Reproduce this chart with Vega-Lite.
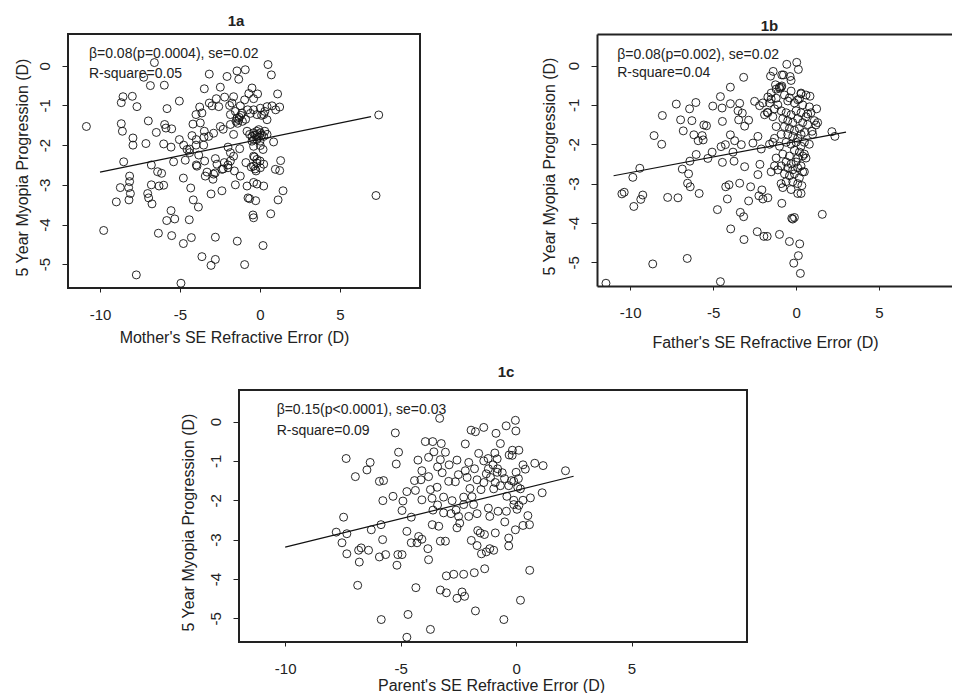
{
  "$schema": "https://vega.github.io/schema/vega-lite/v6.json",
  "padding": {"left": 12, "top": 13, "right": 0, "bottom": 0},
  "background": "white",
  "config": {
    "font": "Liberation Sans",
    "view": {"stroke": "#222", "strokeWidth": 2},
    "axis": {"grid": false, "domain": false, "tickColor": "#222", "tickWidth": 1, "labelColor": "#222", "titleColor": "#222", "labelFontSize": 15, "titleFontSize": 16, "titleFontWeight": "normal", "labelFont": "Liberation Sans", "titleFont": "Liberation Sans"},
    "axisX": {"tickSize": 4, "labelPadding": 15, "titleBaseline": "alphabetic", "titleAlign": "center"},
    "axisY": {"tickSize": 6, "labelPadding": 10, "labelAngle": -90, "labelAlign": "center", "labelBaseline": "bottom", "titleBaseline": "alphabetic", "titleAlign": "center", "titleAngle": -90},
    "title": {"fontSize": 15, "fontWeight": "bold", "baseline": "alphabetic", "color": "#222", "font": "Liberation Sans"}
  },
  "datasets": {
    "a": [
      {"x":-6.60,"y":0.08},{"x":0.50,"y":0.03},{"x":-3.17,"y":-0.21},{"x":-0.92,"y":-0.10},{"x":-1.44,"y":-0.13},{"x":-2.06,"y":-0.27},{"x":-1.33,"y":-0.34},{"x":0.71,"y":-0.23},{"x":-7.27,"y":-0.29},{"x":-6.85,"y":-0.50},{"x":-5.98,"y":-0.49},{"x":-3.48,"y":-0.58},{"x":-2.48,"y":-0.54},{"x":-0.50,"y":-0.56},{"x":-0.15,"y":-0.71},{"x":-7.98,"y":-0.77},{"x":-8.56,"y":-0.78},{"x":-8.67,"y":-0.93},{"x":-7.69,"y":-1.03},{"x":-5.81,"y":-1.08},{"x":-5.04,"y":-0.89},{"x":-2.21,"y":-0.79},{"x":-1.65,"y":-0.78},{"x":-0.96,"y":-0.86},{"x":-0.40,"y":-0.83},{"x":1.10,"y":-0.71},{"x":-3.77,"y":-1.04},{"x":-3.17,"y":-0.94},{"x":-2.73,"y":-0.83},{"x":-2.58,"y":-1.03},{"x":-3.63,"y":-1.19},{"x":-4.00,"y":-1.23},{"x":-3.00,"y":-1.01},{"x":-1.75,"y":-0.94},{"x":-1.23,"y":-1.01},{"x":-1.54,"y":-1.15},{"x":-1.13,"y":-1.19},{"x":-1.85,"y":-1.23},{"x":-1.44,"y":-1.32},{"x":-0.77,"y":-1.11},{"x":-0.40,"y":-1.11},{"x":0.02,"y":-1.07},{"x":0.44,"y":-1.03},{"x":0.75,"y":-1.01},{"x":1.23,"y":-1.04},{"x":0.98,"y":-1.11},{"x":0.23,"y":-1.23},{"x":-0.19,"y":-1.23},{"x":0.44,"y":-1.36},{"x":-10.85,"y":-1.53},{"x":-8.67,"y":-1.46},{"x":-8.60,"y":-1.65},{"x":-6.98,"y":-1.39},{"x":-6.48,"y":-1.68},{"x":-5.96,"y":-1.48},{"x":-5.88,"y":-1.57},{"x":-5.52,"y":-1.59},{"x":-4.19,"y":-1.47},{"x":-3.48,"y":-1.65},{"x":-3.73,"y":-1.44},{"x":-1.85,"y":-1.48},{"x":-2.48,"y":-1.53},{"x":-1.65,"y":-1.73},{"x":-1.33,"y":-1.36},{"x":-0.81,"y":-1.65},{"x":-0.65,"y":-1.73},{"x":-0.50,"y":-1.78},{"x":-0.40,"y":-1.69},{"x":-0.19,"y":-1.73},{"x":-0.08,"y":-1.61},{"x":0.02,"y":-1.69},{"x":0.23,"y":-1.78},{"x":0.44,"y":-1.73},{"x":-0.40,"y":-1.86},{"x":-0.19,"y":-1.86},{"x":7.42,"y":-1.24},{"x":-7.94,"y":-1.82},{"x":-7.94,"y":-2.00},{"x":-7.13,"y":-1.96},{"x":-6.02,"y":-1.97},{"x":-5.56,"y":-2.05},{"x":-5.04,"y":-1.86},{"x":-4.77,"y":-2.00},{"x":-4.56,"y":-2.11},{"x":-4.25,"y":-1.76},{"x":-3.98,"y":-1.86},{"x":-3.52,"y":-2.00},{"x":-3.21,"y":-1.78},{"x":-2.00,"y":-2.05},{"x":-1.85,"y":-2.19},{"x":-1.27,"y":-2.09},{"x":-0.40,"y":-2.03},{"x":0.02,"y":-2.01},{"x":0.85,"y":-1.92},{"x":0.19,"y":-2.11},{"x":-8.52,"y":-2.42},{"x":-6.79,"y":-2.50},{"x":-6.40,"y":-2.67},{"x":-6.15,"y":-2.71},{"x":-5.40,"y":-2.42},{"x":-4.67,"y":-2.38},{"x":-4.40,"y":-2.19},{"x":-3.83,"y":-2.25},{"x":-3.94,"y":-2.53},{"x":-3.46,"y":-2.40},{"x":-3.31,"y":-2.68},{"x":-2.79,"y":-2.34},{"x":-2.69,"y":-2.48},{"x":-2.23,"y":-2.44},{"x":-2.38,"y":-2.61},{"x":-2.00,"y":-2.57},{"x":-1.85,"y":-2.40},{"x":-1.65,"y":-2.28},{"x":-0.88,"y":-2.44},{"x":-0.40,"y":-2.28},{"x":-0.19,"y":-2.36},{"x":-0.40,"y":-2.53},{"x":0.02,"y":-2.57},{"x":0.23,"y":-2.48},{"x":-8.15,"y":-2.78},{"x":-8.15,"y":-2.92},{"x":-8.73,"y":-3.07},{"x":-8.21,"y":-3.07},{"x":-8.10,"y":-3.22},{"x":-6.79,"y":-3.00},{"x":-7.02,"y":-3.22},{"x":-6.96,"y":-3.33},{"x":-6.75,"y":-3.48},{"x":-6.31,"y":-3.03},{"x":-6.02,"y":-3.01},{"x":-4.79,"y":-2.83},{"x":-4.33,"y":-3.08},{"x":-3.98,"y":-2.50},{"x":-3.42,"y":-2.78},{"x":-2.90,"y":-2.73},{"x":-3.06,"y":-3.23},{"x":-2.94,"y":-2.86},{"x":-2.38,"y":-3.15},{"x":-1.54,"y":-3.00},{"x":-1.23,"y":-2.78},{"x":-0.81,"y":-3.03},{"x":-0.40,"y":-2.94},{"x":-0.19,"y":-2.98},{"x":0.23,"y":-3.03},{"x":0.96,"y":-2.61},{"x":1.23,"y":-2.64},{"x":1.29,"y":-2.39},{"x":-8.98,"y":-3.43},{"x":-8.19,"y":-3.38},{"x":-4.17,"y":-3.38},{"x":-3.85,"y":-3.56},{"x":-0.75,"y":-3.33},{"x":-0.65,"y":-3.35},{"x":-0.27,"y":-3.40},{"x":1.13,"y":-3.38},{"x":1.44,"y":-3.15},{"x":7.25,"y":-3.27},{"x":-5.56,"y":-3.65},{"x":-5.83,"y":-3.90},{"x":-5.33,"y":-3.86},{"x":-4.42,"y":-3.88},{"x":-0.44,"y":-3.76},{"x":-0.40,"y":-3.83},{"x":0.67,"y":-3.73},{"x":-9.77,"y":-4.15},{"x":-6.35,"y":-4.22},{"x":-5.52,"y":-4.28},{"x":-4.29,"y":-4.33},{"x":-4.79,"y":-4.48},{"x":-2.79,"y":-4.32},{"x":-1.42,"y":-4.42},{"x":0.19,"y":-4.53},{"x":-3.63,"y":-4.81},{"x":-2.79,"y":-4.88},{"x":-3.06,"y":-5.03},{"x":-0.96,"y":-5.01},{"x":-7.73,"y":-5.27},{"x":-4.94,"y":-5.48},
      {"x":-0.30,"y":-1.75},{"x":-0.10,"y":-1.80},{"x":0.10,"y":-1.75},{"x":-0.20,"y":-1.65},{"x":0.00,"y":-1.90},{"x":-0.50,"y":-1.90},{"x":0.30,"y":-1.65},{"x":-0.35,"y":-2.30},{"x":-0.20,"y":-2.45},{"x":-0.30,"y":-2.60},{"x":0.00,"y":-2.40},{"x":-0.25,"y":-2.65},{"x":-1.30,"y":-1.30},{"x":-1.10,"y":-1.40},{"x":-1.40,"y":-1.45},{"x":-1.20,"y":-1.25},{"x":-0.90,"y":-1.35},{"x":-1.50,"y":-1.40},{"x":-0.60,"y":-1.20},{"x":0.10,"y":-1.25},{"x":0.30,"y":-1.15},{"x":-2.30,"y":-1.60},{"x":-1.90,"y":-1.00},{"x":-0.70,"y":-0.70},{"x":-2.90,"y":-1.70},{"x":-3.50,"y":-1.80},{"x":-4.40,"y":-2.10},{"x":-4.00,"y":-2.00},{"x":-2.30,"y":-2.60},{"x":-2.00,"y":-2.50},{"x":-2.80,"y":-2.70},{"x":-1.60,"y":-2.65},{"x":-0.55,"y":-2.55}
    ],
    "b": [
      {"x":-11.46,"y":-5.53},{"x":-4.56,"y":-5.49},{"x":-8.64,"y":-5.04},{"x":-6.56,"y":-4.90},{"x":-0.14,"y":-5.02},{"x":0.26,"y":-5.28},{"x":0.14,"y":-4.83},{"x":0.22,"y":-4.53},{"x":-0.40,"y":-4.47},{"x":-1.00,"y":-4.29},{"x":-1.94,"y":-4.34},{"x":-1.74,"y":-4.34},{"x":-2.34,"y":-4.22},{"x":-3.14,"y":-4.42},{"x":-3.94,"y":-4.15},{"x":-4.74,"y":-3.66},{"x":-3.36,"y":-3.73},{"x":-3.16,"y":-3.84},{"x":-0.26,"y":-3.88},{"x":-0.10,"y":-3.86},{"x":-0.20,"y":-3.90},{"x":1.58,"y":-3.78},{"x":-0.86,"y":-3.50},{"x":-2.86,"y":-3.44},{"x":-4.14,"y":-3.39},{"x":-2.00,"y":-3.39},{"x":-1.70,"y":-3.36},{"x":-2.24,"y":-3.31},{"x":-2.06,"y":-3.16},{"x":-2.74,"y":-3.08},{"x":-3.40,"y":-2.99},{"x":-4.04,"y":-3.03},{"x":-4.24,"y":-3.08},{"x":-5.84,"y":-3.25},{"x":-6.38,"y":-3.08},{"x":-6.54,"y":-2.99},{"x":-6.48,"y":-2.75},{"x":-6.40,"y":-2.43},{"x":-6.86,"y":-2.63},{"x":-7.12,"y":-3.36},{"x":-7.74,"y":-3.35},{"x":-9.42,"y":-2.61},{"x":-9.84,"y":-2.84},{"x":-10.50,"y":-3.26},{"x":-10.36,"y":-3.22},{"x":-9.24,"y":-3.29},{"x":-9.36,"y":-3.40},{"x":-9.78,"y":-3.58},{"x":-8.56,"y":-1.78},{"x":-8.10,"y":-2.00},{"x":-8.06,"y":-1.27},{"x":-7.22,"y":-0.98},{"x":-6.96,"y":-1.38},{"x":-6.80,"y":-1.66},{"x":-6.42,"y":-1.10},{"x":-6.28,"y":-1.40},{"x":-6.04,"y":-0.94},{"x":-6.16,"y":-1.76},{"x":-5.90,"y":-1.91},{"x":-5.56,"y":-1.51},{"x":-5.40,"y":-1.53},{"x":-5.66,"y":-1.78},{"x":-5.60,"y":-1.89},{"x":-6.02,"y":-2.26},{"x":-5.32,"y":-2.36},{"x":-5.06,"y":-2.20},{"x":-4.56,"y":-0.79},{"x":-3.96,"y":-0.55},{"x":-5.02,"y":-1.03},{"x":-4.46,"y":-1.08},{"x":-3.96,"y":-0.97},{"x":-3.40,"y":-0.96},{"x":-3.50,"y":-1.15},{"x":-3.24,"y":-1.21},{"x":-3.10,"y":-1.54},{"x":-2.86,"y":-1.39},{"x":-3.46,"y":-1.38},{"x":-3.16,"y":-0.30},{"x":-4.44,"y":-1.42},{"x":-3.96,"y":-1.76},{"x":-3.70,"y":-1.91},{"x":-3.30,"y":-2.01},{"x":-3.80,"y":-2.20},{"x":-3.74,"y":-2.43},{"x":-4.44,"y":-2.46},{"x":-4.26,"y":-2.01},{"x":-4.52,"y":-2.06},{"x":-3.10,"y":-2.57},{"x":-2.50,"y":-0.91},{"x":-2.20,"y":-1.02},{"x":-2.30,"y":-1.80},{"x":-2.60,"y":-1.97},{"x":-2.10,"y":-2.12},{"x":-2.18,"y":-2.51},{"x":-2.30,"y":-2.77},{"x":-1.70,"y":-0.80},{"x":-1.50,"y":-0.70},{"x":-1.74,"y":-1.19},{"x":-1.20,"y":-0.83},
      {"x":-0.56,"y":0.03},{"x":0.04,"y":0.08},{"x":0.14,"y":-0.10},{"x":-1.38,"y":-0.15},{"x":-1.54,"y":-0.27},{"x":-0.86,"y":-0.24},{"x":-0.76,"y":-0.24},{"x":-0.36,"y":-0.28},{"x":-0.30,"y":-0.38},{"x":-1.24,"y":-0.49},{"x":-0.90,"y":-0.55},{"x":-1.00,"y":-0.58},{"x":-0.86,"y":-0.52},{"x":0.30,"y":-0.72},{"x":0.84,"y":-0.78},{"x":-0.40,"y":-0.82},{"x":0.10,"y":-0.87},{"x":1.24,"y":-1.10},{"x":1.20,"y":-1.51},{"x":1.30,"y":-1.45},{"x":0.70,"y":-1.23},{"x":0.96,"y":-1.67},{"x":2.16,"y":-1.68},{"x":2.34,"y":-1.80},
      {"x":-1.20,"y":-0.60},{"x":-1.00,"y":-0.55},{"x":-0.70,"y":-0.75},{"x":-0.30,"y":-0.65},{"x":0.30,"y":-0.70},{"x":0.60,"y":-0.75},{"x":0.20,"y":-0.85},{"x":-0.50,"y":-0.90},{"x":-0.10,"y":-0.95},{"x":0.40,"y":-1.00},{"x":0.80,"y":-1.05},{"x":-1.10,"y":-1.00},{"x":-1.60,"y":-0.95},{"x":-1.30,"y":-1.10},{"x":-0.90,"y":-1.15},{"x":-0.60,"y":-1.20},{"x":-0.30,"y":-1.25},{"x":0.00,"y":-1.15},{"x":0.30,"y":-1.20},{"x":0.60,"y":-1.30},{"x":0.90,"y":-1.20},{"x":-1.40,"y":-1.30},{"x":-0.80,"y":-1.35},{"x":-0.50,"y":-1.40},{"x":-0.20,"y":-1.45},{"x":0.10,"y":-1.35},{"x":0.40,"y":-1.45},{"x":0.70,"y":-1.50},{"x":1.10,"y":-1.40},{"x":-1.20,"y":-1.55},{"x":-0.70,"y":-1.55},{"x":-0.40,"y":-1.60},{"x":-0.10,"y":-1.65},{"x":0.20,"y":-1.60},{"x":0.50,"y":-1.70},{"x":-0.90,"y":-1.75},{"x":-0.50,"y":-1.75},{"x":-0.20,"y":-1.80},{"x":0.10,"y":-1.85},{"x":0.30,"y":-1.75},{"x":-1.30,"y":-1.85},{"x":-0.60,"y":-1.95},{"x":-0.30,"y":-2.00},{"x":0.00,"y":-1.95},{"x":0.30,"y":-2.05},{"x":0.50,"y":-1.95},{"x":-1.00,"y":-2.05},{"x":-0.10,"y":-2.15},{"x":0.20,"y":-2.20},{"x":0.50,"y":-2.25},{"x":-0.80,"y":-2.25},{"x":-0.40,"y":-2.30},{"x":0.10,"y":-2.35},{"x":0.40,"y":-2.30},{"x":-1.20,"y":-2.35},{"x":-0.60,"y":-2.45},{"x":-0.30,"y":-2.50},{"x":0.00,"y":-2.45},{"x":0.30,"y":-2.55},{"x":-0.90,"y":-2.55},{"x":-0.50,"y":-2.60},{"x":-0.20,"y":-2.65},{"x":0.10,"y":-2.60},{"x":0.40,"y":-2.70},{"x":-1.10,"y":-2.65},{"x":-0.70,"y":-2.75},{"x":-0.40,"y":-2.80},{"x":-0.10,"y":-2.75},{"x":0.20,"y":-2.85},{"x":-0.60,"y":-2.95},{"x":-0.20,"y":-2.95},{"x":0.10,"y":-3.00},{"x":0.35,"y":-3.05},{"x":-0.80,"y":-3.10},{"x":-0.30,"y":-3.15},{"x":0.10,"y":-3.25},{"x":0.30,"y":-3.25},{"x":-0.90,"y":-3.00},{"x":-1.50,"y":-2.70},{"x":-1.30,"y":-2.55},{"x":-1.60,"y":-2.00},{"x":-1.40,"y":-1.95},{"x":-1.70,"y":-1.20},{"x":-1.50,"y":-0.85},{"x":1.00,"y":-1.75},{"x":0.80,"y":-2.00},{"x":0.60,"y":-2.35},{"x":0.50,"y":-2.70},{"x":-2.00,"y":-0.95},{"x":-1.90,"y":-1.25}
    ],
    "c": [
      {"x":-3.31,"y":0.08},{"x":-0.03,"y":0.03},{"x":-0.01,"y":-0.24},{"x":-1.40,"y":-0.15},{"x":-1.95,"y":-0.22},{"x":-1.76,"y":-0.26},{"x":-0.43,"y":-0.11},{"x":-0.87,"y":-0.30},{"x":-0.68,"y":-0.56},{"x":-2.20,"y":-0.57},{"x":-5.23,"y":-0.29},{"x":-3.93,"y":-0.51},{"x":-3.61,"y":-0.51},{"x":-3.24,"y":-0.56},{"x":-3.56,"y":-0.77},{"x":-3.06,"y":-0.78},{"x":-5.09,"y":-0.78},{"x":-5.19,"y":-1.08},{"x":-4.25,"y":-0.98},{"x":-3.79,"y":-0.91},{"x":-3.28,"y":-0.97},{"x":-3.40,"y":-1.15},{"x":-2.56,"y":-0.98},{"x":-2.05,"y":-1.04},{"x":-1.62,"y":-0.81},{"x":-1.21,"y":-0.94},{"x":-0.92,"y":-0.80},{"x":-0.82,"y":-0.95},{"x":-0.16,"y":-0.73},{"x":0.12,"y":-0.73},{"x":-0.17,"y":-0.86},{"x":0.81,"y":-1.06},{"x":1.17,"y":-1.12},{"x":2.14,"y":-1.25},{"x":0.40,"y":-1.21},{"x":0.00,"y":-1.29},{"x":-7.36,"y":-0.94},{"x":-6.32,"y":-1.04},{"x":-6.46,"y":-1.23},{"x":-6.96,"y":-1.40},{"x":-5.92,"y":-1.52},{"x":-5.74,"y":-1.50},{"x":-4.08,"y":-1.25},{"x":-4.12,"y":-1.48},{"x":-3.79,"y":-1.40},{"x":-2.92,"y":-1.52},{"x":-2.63,"y":-1.53},{"x":-2.12,"y":-1.42},{"x":-1.69,"y":-1.48},{"x":-1.29,"y":-1.33},{"x":-1.11,"y":-1.42},{"x":-0.82,"y":-1.29},{"x":-0.68,"y":-1.63},{"x":-0.32,"y":-1.63},{"x":-0.10,"y":-1.52},{"x":0.07,"y":-1.67},{"x":0.19,"y":-1.71},{"x":1.13,"y":-1.81},{"x":0.62,"y":-1.94},{"x":-4.73,"y":-1.78},{"x":-4.36,"y":-1.75},{"x":-5.33,"y":-1.90},{"x":-5.77,"y":-2.01},{"x":-4.90,"y":-2.02},{"x":-4.08,"y":-1.99},{"x":-3.71,"y":-1.73},{"x":-3.42,"y":-1.67},{"x":-3.64,"y":-1.95},{"x":-3.14,"y":-1.92},{"x":-2.77,"y":-2.01},{"x":-2.27,"y":-1.92},{"x":-1.91,"y":-1.91},{"x":-1.52,"y":-1.73},{"x":-0.97,"y":-1.71},{"x":-2.27,"y":-2.11},{"x":-1.84,"y":-2.11},{"x":-3.40,"y":-2.12},{"x":-4.94,"y":-2.26},{"x":-4.54,"y":-2.43},{"x":-3.14,"y":-2.32},{"x":-2.82,"y":-2.34},{"x":-2.49,"y":-2.41},{"x":-2.05,"y":-2.41},{"x":-1.69,"y":-2.34},{"x":-1.14,"y":-2.41},{"x":-0.78,"y":-2.28},{"x":-0.42,"y":-2.28},{"x":0.04,"y":-2.23},{"x":0.12,"y":-2.13},{"x":-0.10,"y":-2.11},{"x":0.51,"y":-2.39},{"x":0.30,"y":-2.64},{"x":0.58,"y":-2.62},{"x":-0.03,"y":-2.75},{"x":-0.49,"y":-2.55},{"x":-7.47,"y":-2.43},{"x":-7.79,"y":-2.81},{"x":-7.33,"y":-2.85},{"x":-7.54,"y":-3.08},{"x":-7.33,"y":-3.36},{"x":-6.82,"y":-3.27},{"x":-6.71,"y":-3.21},{"x":-6.79,"y":-3.57},{"x":-6.39,"y":-3.27},{"x":-6.27,"y":-2.75},{"x":-5.85,"y":-2.62},{"x":-5.78,"y":-3.00},{"x":-5.92,"y":-3.44},{"x":-5.65,"y":-3.38},{"x":-5.12,"y":-3.38},{"x":-5.16,"y":-3.65},{"x":-4.94,"y":-3.38},{"x":-4.73,"y":-2.79},{"x":-4.54,"y":-3.08},{"x":-4.29,"y":-3.08},{"x":-4.22,"y":-2.92},{"x":-4.08,"y":-2.99},{"x":-3.82,"y":-3.23},{"x":-3.79,"y":-3.51},{"x":-3.63,"y":-2.62},{"x":-3.35,"y":-2.66},{"x":-3.28,"y":-3.04},{"x":-3.06,"y":-3.04},{"x":-2.56,"y":-2.70},{"x":-2.44,"y":-2.58},{"x":-1.94,"y":-3.02},{"x":-1.69,"y":-3.15},{"x":-1.66,"y":-2.77},{"x":-1.55,"y":-2.83},{"x":-1.37,"y":-2.87},{"x":-1.50,"y":-3.36},{"x":-1.29,"y":-3.31},{"x":-1.14,"y":-3.23},{"x":-0.97,"y":-3.27},{"x":-0.90,"y":-2.83},{"x":-0.32,"y":-2.96},{"x":-0.32,"y":-3.16},{"x":-6.86,"y":-4.16},{"x":-4.34,"y":-4.22},{"x":-3.02,"y":-3.92},{"x":-2.70,"y":-3.88},{"x":-2.27,"y":-3.88},{"x":-1.81,"y":-3.84},{"x":-1.36,"y":-3.74},{"x":0.59,"y":-3.78},{"x":-3.28,"y":-4.28},{"x":-3.02,"y":-4.35},{"x":-2.34,"y":-4.33},{"x":-2.56,"y":-4.49},{"x":-2.23,"y":-4.44},{"x":0.19,"y":-4.54},{"x":-4.68,"y":-4.90},{"x":-5.84,"y":-5.03},{"x":-1.76,"y":-4.81},{"x":-0.53,"y":-5.03},{"x":-3.71,"y":-5.28},{"x":-4.73,"y":-5.48},
      {"x":-1.00,"y":-1.10},{"x":-0.80,"y":-1.20},{"x":-0.60,"y":-1.30},{"x":-1.20,"y":-1.20},{"x":-0.50,"y":-1.45},{"x":-0.20,"y":-1.50},{"x":0.10,"y":-1.45},{"x":-0.90,"y":-1.55},{"x":-1.40,"y":-1.55},{"x":-2.20,"y":-1.25},{"x":-2.50,"y":-1.35},{"x":-1.80,"y":-1.20},{"x":-2.90,"y":-1.10},{"x":-3.20,"y":-1.30},{"x":-0.40,"y":-1.90},{"x":-0.10,"y":-2.00},{"x":0.30,"y":-2.00},{"x":-3.60,"y":-2.25},{"x":-2.00,"y":-1.70},{"x":-4.40,"y":-1.50},{"x":-1.20,"y":-2.20},{"x":-2.60,"y":-2.25},{"x":0.30,"y":-1.10},{"x":-1.40,"y":-1.00},{"x":-0.30,"y":-0.85}
    ],
    "la": [{"x":-10,"y":-2.68},{"x":6.94,"y":-1.28}],
    "lb": [{"x":-11.0,"y":-2.80},{"x":3.01,"y":-1.69}],
    "lc": [{"x":-10,"y":-3.19},{"x":2.49,"y":-1.39}],
    "ta": [{"x":-10.69,"y":0.30,"label":"β=0.08(p=0.0004), se=0.02"},{"x":-10.69,"y":-0.20,"label":"R-square=0.05"}],
    "tb": [{"x":-10.78,"y":0.27,"label":"β=0.08(p=0.002), se=0.02"},{"x":-10.78,"y":-0.20,"label":"R-square=0.04"}],
    "tc": [{"x":-10.37,"y":0.28,"label":"β=0.15(p<0.0001), se=0.03"},{"x":-10.37,"y":-0.24,"label":"R-square=0.09"}]
  },
  "vconcat": [
    {
      "hconcat": [
        {
          "width": 352, "height": 254,
          "title": {"text": "1a", "dx": -8, "offset": 5},
          "layer": [
            {
              "data": {"name": "a"},
              "mark": {"type": "point", "shape": "circle", "filled": false, "size": 64, "stroke": "#111", "strokeWidth": 0.9, "opacity": 1, "clip": true},
              "encoding": {
                "x": {"field": "x", "type": "quantitative", "scale": {"domain": [-12, 10], "nice": false, "zero": false}, "axis": {"values": [-10, -5, 0, 5], "labelExpr": "datum.value + ''", "title": "Mother's SE Refractive Error (D)", "titleX": 166, "titleY": 54}},
                "y": {"field": "y", "type": "quantitative", "scale": {"domain": [-5.6, 0.8], "nice": false, "zero": false}, "axis": {"values": [-5, -4, -3, -2, -1, 0], "labelExpr": "datum.value + ''", "title": "5 Year Myopia Progression (D)", "titleX": -41, "titleY": 133}}
              }
            },
            {
              "data": {"name": "la"},
              "mark": {"type": "line", "color": "#111", "strokeWidth": 1.2, "clip": true},
              "encoding": {"x": {"field": "x", "type": "quantitative"}, "y": {"field": "y", "type": "quantitative"}}
            },
            {
              "data": {"name": "ta"},
              "mark": {"type": "text", "align": "left", "baseline": "middle", "fontSize": 14, "color": "#222"},
              "encoding": {"x": {"field": "x", "type": "quantitative"}, "y": {"field": "y", "type": "quantitative"}, "text": {"field": "label"}}
            }
          ]
        },
        {
          "width": 355, "height": 252,
          "view": {"stroke": null},
          "title": {"text": "1b", "dx": -5, "offset": 0},
          "layer": [
            {
              "data": {"name": "b"},
              "mark": {"type": "point", "shape": "circle", "filled": false, "size": 64, "stroke": "#111", "strokeWidth": 0.9, "opacity": 1, "clip": true},
              "encoding": {
                "x": {"field": "x", "type": "quantitative", "scale": {"domain": [-12, 9.4], "nice": false, "zero": false}, "axis": {"orient": "bottom", "domain": true, "domainWidth": 2, "domainColor": "#222", "values": [-10, -5, 0, 5], "labelExpr": "datum.value + ''", "title": "Father's SE Refractive Error (D)", "titleX": 168, "titleY": 61}},
                "y": {"field": "y", "type": "quantitative", "scale": {"domain": [-5.6, 0.8], "nice": false, "zero": false}, "axis": {"domain": true, "domainWidth": 2, "domainColor": "#222", "values": [-5, -4, -3, -2, -1, 0], "labelExpr": "datum.value + ''", "title": "5 Year Myopia Progression (D)", "titleX": -43, "titleY": 132}}
              }
            },
            {
              "data": {"name": "lb"},
              "mark": {"type": "line", "color": "#111", "strokeWidth": 1.2, "clip": true},
              "encoding": {"x": {"field": "x", "type": "quantitative", "axis": {"orient": "top", "labels": false, "ticks": false, "title": null, "domain": true, "domainWidth": 2, "domainColor": "#222"}}, "y": {"field": "y", "type": "quantitative"}}
            },
            {
              "data": {"name": "tb"},
              "mark": {"type": "text", "align": "left", "baseline": "middle", "fontSize": 14, "color": "#222"},
              "encoding": {"x": {"field": "x", "type": "quantitative", "axis": {"orient": "bottom", "labels": false, "ticks": false, "title": null, "domain": false}}, "y": {"field": "y", "type": "quantitative"}, "text": {"field": "label"}}
            }
          ]
        }
      ],
      "spacing": 177,
      "bounds": "flush"
    },
    {
      "hconcat": [
        {
          "width": 171, "height": 1,
          "view": {"stroke": null},
          "data": {"values": []},
          "mark": {"type": "point", "opacity": 0},
          "encoding": {}
        },
        {
          "width": 508, "height": 252,
          "title": {"text": "1c", "dx": 13, "offset": 10},
          "layer": [
            {
              "data": {"name": "c"},
              "mark": {"type": "point", "shape": "circle", "filled": false, "size": 64, "stroke": "#111", "strokeWidth": 0.9, "opacity": 1, "clip": true},
              "encoding": {
                "x": {"field": "x", "type": "quantitative", "scale": {"domain": [-12, 10], "nice": false, "zero": false}, "axis": {"values": [-10, -5, 0, 5], "labelExpr": "datum.value + ''", "title": "Parent's SE Refractive Error (D)", "titleX": 252, "titleY": 48}},
                "y": {"field": "y", "type": "quantitative", "scale": {"domain": [-5.6, 0.8], "nice": false, "zero": false}, "axis": {"values": [-5, -4, -3, -2, -1, 0], "labelExpr": "datum.value + ''", "title": "5 Year Myopia Progression (D)", "titleX": -46, "titleY": 132}}
              }
            },
            {
              "data": {"name": "lc"},
              "mark": {"type": "line", "color": "#111", "strokeWidth": 1.2, "clip": true},
              "encoding": {"x": {"field": "x", "type": "quantitative"}, "y": {"field": "y", "type": "quantitative"}}
            },
            {
              "data": {"name": "tc"},
              "mark": {"type": "text", "align": "left", "baseline": "middle", "fontSize": 14, "color": "#222"},
              "encoding": {"x": {"field": "x", "type": "quantitative"}, "y": {"field": "y", "type": "quantitative"}, "text": {"field": "label"}}
            }
          ]
        }
      ],
      "spacing": 0,
      "bounds": "flush"
    }
  ],
  "spacing": 14
}
